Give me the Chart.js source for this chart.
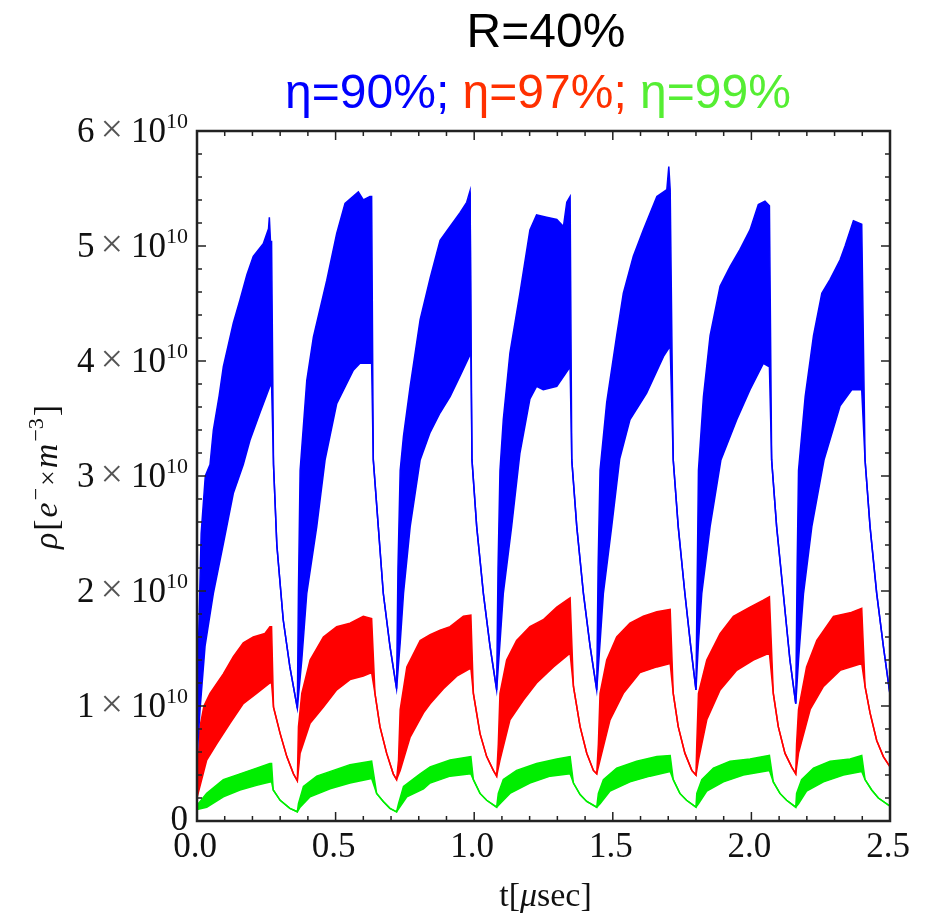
<!DOCTYPE html>
<html>
<head>
<meta charset="utf-8">
<script src="https://cdn.jsdelivr.net/npm/chart.js@4.4.1/dist/chart.umd.min.js"></script>
<style>
  body { margin: 0; background: #fff; }
  #wrap { position: relative; width: 928px; height: 920px; overflow: hidden; }
  #chart { position: absolute; left: 0; top: 0; }
  .title { position: absolute; width: 700px; text-align: center;
           font-family: "Liberation Sans", Arial, sans-serif; font-size: 48px; line-height: 48px; }
</style>
</head>
<body>
<div id="wrap">
  <canvas id="chart" width="928" height="920"></canvas>
  <div class="title" style="left:196px;top:7px;color:#000">R=40%</div>
  <div class="title" style="left:188px;top:68px">
    <span style="color:#0000ff">η=90%;</span>
    <span style="color:#ff3000">η=97%;</span>
    <span style="color:#55ee33">η=99%</span>
  </div>
</div>
<script>
// values in units of 10^10 e-/m^3, time in microseconds: [t, rho]
const UNIT = 1e10;

const xTickValues = [0, 0.5, 1.0, 1.5, 2.0, 2.5];
const xTickLabels = ["0.0", "0.5", "1.0", "1.5", "2.0", "2.5"];
const yTickValues = [0, 1, 2, 3, 4, 5, 6];
const yTickMantissas = ["0", "1", "2", "3", "4", "5", "6"];

// eta = 90% (blue): upper and lower edge of the bunch-train band, then decay between trains
const blueTop = [
  [0, 0.55], [0.006, 1.6], [0.015, 2.5], [0.03, 3.0], [0.047, 3.1], [0.059, 3.4], [0.08, 3.7], [0.095, 3.95],
  [0.131, 4.33], [0.155, 4.53], [0.18, 4.75], [0.203, 4.91], [0.239, 5.02], [0.258, 5.15], [0.261, 5.25], [0.265, 5.04], [0.269, 5.04],
  [0.362, 0.98], [0.366, 2.0], [0.372, 3.05], [0.396, 3.83], [0.42, 4.21], [0.468, 4.7], [0.504, 5.11], [0.534, 5.37],
  [0.582, 5.47], [0.6, 5.4], [0.624, 5.43], [0.63, 5.43],
  [0.72, 1.15], [0.725, 2.2], [0.733, 3.05], [0.745, 3.35], [0.769, 3.78], [0.805, 4.36], [0.841, 4.72], [0.877, 5.05],
  [0.913, 5.17], [0.949, 5.29], [0.973, 5.38], [0.985, 5.48], [0.988, 5.48],
  [1.081, 1.14], [1.086, 2.2], [1.093, 3.05], [1.105, 3.49], [1.129, 4.07], [1.165, 4.59], [1.201, 5.14], [1.225, 5.27],
  [1.261, 5.25], [1.298, 5.23], [1.322, 5.17], [1.334, 5.38], [1.346, 5.43],
  [1.442, 1.14], [1.447, 2.2], [1.454, 3.05], [1.478, 3.64], [1.514, 4.22], [1.538, 4.59], [1.574, 4.91], [1.61, 5.14],
  [1.659, 5.43], [1.695, 5.49], [1.702, 5.69], [1.707, 5.49],
  [1.8, 1.14], [1.805, 2.2], [1.809, 3.05], [1.827, 3.69], [1.851, 4.22], [1.887, 4.65], [1.923, 4.82], [1.959, 4.97],
  [1.995, 5.14], [2.025, 5.36], [2.049, 5.39], [2.065, 5.35],
  [2.16, 1.02], [2.165, 2.2], [2.17, 3.05], [2.194, 3.69], [2.224, 4.22], [2.254, 4.59], [2.284, 4.71], [2.32, 4.88],
  [2.338, 5.0], [2.368, 5.22], [2.398, 5.19]
];
const blueBottom = [
  [0, 0.55], [0.011, 0.97], [0.029, 1.52], [0.059, 1.98], [0.095, 2.41], [0.131, 2.85], [0.167, 3.1], [0.191, 3.31],
  [0.227, 3.55], [0.263, 3.78], [0.269, 3.8],
  [0.362, 0.98], [0.378, 1.4], [0.396, 1.98], [0.432, 2.56], [0.462, 3.14], [0.504, 3.63], [0.564, 3.92], [0.588, 3.98], [0.63, 3.98],
  [0.72, 1.15], [0.733, 1.55], [0.745, 1.98], [0.769, 2.56], [0.805, 3.14], [0.841, 3.38], [0.877, 3.55], [0.913, 3.69],
  [0.949, 3.87], [0.988, 4.07],
  [1.081, 1.14], [1.093, 1.55], [1.105, 1.98], [1.135, 2.56], [1.165, 3.2], [1.201, 3.67], [1.225, 3.78], [1.249, 3.75],
  [1.298, 3.78], [1.346, 3.95],
  [1.442, 1.14], [1.454, 1.55], [1.466, 1.98], [1.496, 2.56], [1.525, 3.15], [1.562, 3.49], [1.622, 3.72], [1.683, 4.04], [1.707, 4.13],
  [1.8, 1.14], [1.809, 1.55], [1.821, 1.98], [1.851, 2.56], [1.89, 3.14], [1.947, 3.49], [1.995, 3.75], [2.043, 3.98], [2.065, 3.95],
  [2.16, 1.02], [2.17, 1.4], [2.188, 1.98], [2.218, 2.56], [2.262, 3.14], [2.32, 3.61], [2.362, 3.75], [2.398, 3.75]
];
const blueDecay = [
  [0.276, 3.1], [0.288, 2.4], [0.311, 1.75], [0.335, 1.34],
  [0.636, 3.14], [0.654, 2.56], [0.672, 1.98], [0.696, 1.52],
  [0.992, 3.14], [1.009, 2.56], [1.033, 1.98], [1.057, 1.52],
  [1.352, 3.14], [1.37, 2.56], [1.394, 1.98], [1.418, 1.52],
  [1.718, 3.14], [1.736, 2.56], [1.76, 1.98], [1.781, 1.52],
  [2.073, 3.14], [2.091, 2.56], [2.115, 1.98], [2.139, 1.4],
  [2.41, 3.14], [2.428, 2.56], [2.452, 1.98], [2.476, 1.52], [2.5, 1.1]
];

// eta = 97% (red)
const redTop = [
  [0, 0.2], [0.005, 0.53], [0.011, 0.82], [0.025, 1.0], [0.047, 1.11], [0.095, 1.28], [0.131, 1.43], [0.167, 1.55],
  [0.203, 1.6], [0.245, 1.63], [0.263, 1.69], [0.269, 1.69],
  [0.362, 0.35], [0.366, 0.82], [0.378, 1.11], [0.408, 1.4], [0.456, 1.6], [0.504, 1.69], [0.552, 1.72], [0.6, 1.78], [0.63, 1.76],
  [0.72, 0.36], [0.727, 0.53], [0.733, 0.97], [0.757, 1.34], [0.805, 1.57], [0.841, 1.62], [0.877, 1.66], [0.913, 1.69],
  [0.961, 1.78], [0.988, 1.79],
  [1.081, 0.39], [1.087, 0.67], [1.093, 1.11], [1.117, 1.4], [1.153, 1.57], [1.201, 1.69], [1.249, 1.75], [1.298, 1.86],
  [1.334, 1.92], [1.346, 1.94],
  [1.442, 0.41], [1.448, 0.67], [1.454, 1.11], [1.478, 1.4], [1.514, 1.6], [1.562, 1.72], [1.61, 1.78], [1.659, 1.82], [1.707, 1.84],
  [1.8, 0.4], [1.803, 0.67], [1.809, 1.11], [1.839, 1.4], [1.887, 1.63], [1.935, 1.78], [1.995, 1.86], [2.043, 1.92], [2.065, 1.95],
  [2.16, 0.41], [2.163, 0.67], [2.17, 0.97], [2.199, 1.34], [2.236, 1.57], [2.296, 1.78], [2.356, 1.81], [2.398, 1.85]
];
const redBottom = [
  [0, 0.2], [0.005, 0.25], [0.035, 0.53], [0.071, 0.67], [0.119, 0.85], [0.167, 1.02], [0.215, 1.11], [0.263, 1.2], [0.269, 1.2],
  [0.362, 0.35], [0.372, 0.59], [0.408, 0.85], [0.456, 0.99], [0.504, 1.14], [0.552, 1.23], [0.6, 1.26], [0.63, 1.29],
  [0.72, 0.36], [0.733, 0.44], [0.769, 0.73], [0.817, 0.94], [0.841, 1.02], [0.889, 1.15], [0.937, 1.26], [0.988, 1.33],
  [1.081, 0.39], [1.093, 0.53], [1.129, 0.88], [1.177, 1.05], [1.225, 1.2], [1.286, 1.34], [1.346, 1.46],
  [1.442, 0.41], [1.454, 0.53], [1.49, 0.88], [1.538, 1.11], [1.598, 1.29], [1.659, 1.34], [1.707, 1.37],
  [1.8, 0.4], [1.809, 0.53], [1.839, 0.88], [1.887, 1.14], [1.947, 1.31], [2.007, 1.4], [2.065, 1.46],
  [2.16, 0.41], [2.17, 0.59], [2.212, 0.97], [2.26, 1.17], [2.32, 1.31], [2.398, 1.37]
];
const redDecay = [
  [0.276, 0.99], [0.3, 0.76], [0.324, 0.56], [0.348, 0.41],
  [0.642, 1.11], [0.66, 0.82], [0.684, 0.59], [0.708, 0.41],
  [0.997, 1.11], [1.021, 0.76], [1.045, 0.56], [1.069, 0.44],
  [1.358, 1.17], [1.382, 0.82], [1.406, 0.59], [1.43, 0.44],
  [1.718, 1.11], [1.736, 0.82], [1.76, 0.59], [1.785, 0.44],
  [2.079, 1.11], [2.097, 0.82], [2.121, 0.59], [2.145, 0.47],
  [2.41, 1.17], [2.428, 0.94], [2.452, 0.7], [2.476, 0.56], [2.5, 0.47]
];

// eta = 99% (green)
const greenTop = [
  [0, 0.12], [0.005, 0.15], [0.035, 0.24], [0.095, 0.36], [0.155, 0.41], [0.215, 0.46], [0.263, 0.5], [0.269, 0.5],
  [0.362, 0.08], [0.366, 0.15], [0.384, 0.3], [0.432, 0.39], [0.492, 0.44], [0.552, 0.49], [0.63, 0.52],
  [0.72, 0.08], [0.727, 0.15], [0.745, 0.3], [0.805, 0.41], [0.841, 0.47], [0.913, 0.53], [0.988, 0.56],
  [1.081, 0.12], [1.087, 0.24], [1.105, 0.36], [1.153, 0.44], [1.225, 0.5], [1.298, 0.54], [1.346, 0.56],
  [1.442, 0.12], [1.448, 0.24], [1.466, 0.36], [1.514, 0.46], [1.586, 0.52], [1.659, 0.56], [1.707, 0.57],
  [1.8, 0.12], [1.803, 0.24], [1.821, 0.36], [1.863, 0.46], [1.923, 0.52], [1.995, 0.54], [2.065, 0.57],
  [2.16, 0.12], [2.163, 0.24], [2.181, 0.36], [2.224, 0.46], [2.284, 0.52], [2.356, 0.54], [2.398, 0.57]
];
const greenBottom = [
  [0, 0.1], [0.035, 0.12], [0.095, 0.21], [0.155, 0.27], [0.215, 0.31], [0.263, 0.34], [0.269, 0.34],
  [0.362, 0.08], [0.372, 0.12], [0.408, 0.21], [0.48, 0.28], [0.552, 0.33], [0.63, 0.37],
  [0.72, 0.08], [0.757, 0.21], [0.817, 0.28], [0.841, 0.33], [0.913, 0.39], [0.988, 0.41],
  [1.081, 0.12], [1.093, 0.15], [1.129, 0.24], [1.201, 0.33], [1.274, 0.39], [1.346, 0.41],
  [1.442, 0.12], [1.454, 0.15], [1.49, 0.26], [1.562, 0.34], [1.634, 0.39], [1.707, 0.43],
  [1.8, 0.12], [1.809, 0.15], [1.839, 0.26], [1.899, 0.34], [1.971, 0.4], [2.065, 0.44],
  [2.16, 0.12], [2.17, 0.15], [2.199, 0.26], [2.26, 0.34], [2.332, 0.4], [2.398, 0.43]
];
const greenDecay = [
  [0.275, 0.27], [0.3, 0.18], [0.335, 0.11],
  [0.648, 0.24], [0.672, 0.17], [0.696, 0.11],
  [0.997, 0.36], [1.021, 0.24], [1.045, 0.18], [1.069, 0.14],
  [1.358, 0.33], [1.382, 0.23], [1.406, 0.17],
  [1.718, 0.36], [1.742, 0.24], [1.766, 0.18],
  [2.079, 0.34], [2.103, 0.24], [2.127, 0.18],
  [2.41, 0.36], [2.434, 0.27], [2.458, 0.2], [2.5, 0.13]
];

function buildLine(edge, decay) {
  return edge.concat(decay)
    .sort((a, b) => a[0] - b[0])
    .map(p => ({ x: p[0], y: p[1] * UNIT }));
}

function band(color, top, bottom, decay) {
  return [
    { data: buildLine(top, decay), borderColor: color, borderWidth: 1.5, fill: false },
    { data: buildLine(bottom, decay), borderColor: color, borderWidth: 1.5, backgroundColor: color, fill: "-1" }
  ];
}

const SERIF = '"Liberation Serif", "Times New Roman", serif';

const framePlugin = {
  id: "frameAndLabels",
  afterDraw(chart) {
    const ctx = chart.ctx;
    const a = chart.chartArea;
    const xs = chart.scales.x;
    const ys = chart.scales.y;
    ctx.save();

    // ticks, pointing inward on all four sides
    ctx.strokeStyle = "#222";
    ctx.lineWidth = 1.5;
    ctx.beginPath();
    for (let i = 0; i <= 25; i++) {
      const px = xs.getPixelForValue(i / 10);
      const len = i % 5 === 0 ? 9 : 5;
      ctx.moveTo(px, a.bottom); ctx.lineTo(px, a.bottom - len);
      ctx.moveTo(px, a.top); ctx.lineTo(px, a.top + len);
    }
    for (let i = 0; i <= 30; i++) {
      const py = ys.getPixelForValue(i * 0.2 * UNIT);
      const len = i % 5 === 0 ? 9 : 5;
      ctx.moveTo(a.left, py); ctx.lineTo(a.left + len, py);
      ctx.moveTo(a.right, py); ctx.lineTo(a.right - len, py);
    }
    ctx.stroke();

    ctx.lineWidth = 2.5;
    ctx.strokeRect(a.left, a.top, a.right - a.left, a.bottom - a.top);

    // x tick labels
    ctx.fillStyle = "#111";
    ctx.font = "35px " + SERIF;
    ctx.textAlign = "center";
    ctx.textBaseline = "alphabetic";
    xTickValues.forEach((v, i) => {
      ctx.fillText(xTickLabels[i], xs.getPixelForValue(v) - 2, 857);
    });

    // y tick labels: "m × 10^10"
    ctx.textAlign = "left";
    yTickValues.forEach((v, i) => {
      const py = ys.getPixelForValue(v * UNIT);
      const right = a.left - 9;
      if (v === 0) {
        ctx.font = "35px " + SERIF;
        ctx.fillStyle = "#111";
        ctx.textAlign = "right";
        ctx.fillText(yTickMantissas[i], right, py + 9);
        ctx.textAlign = "left";
        return;
      }
      ctx.font = "22px " + SERIF;
      const wSup = ctx.measureText("10").width;
      ctx.font = "40px " + SERIF;
      const wTimes = ctx.measureText("×").width;
      ctx.font = "35px " + SERIF;
      const wTen = ctx.measureText("10").width;
      const wMan = ctx.measureText(yTickMantissas[i]).width;
      let x = right - wSup - wTen - 8 - wTimes - 6 - wMan;
      ctx.fillStyle = "#111";
      ctx.fillText(yTickMantissas[i], x, py + 11);
      x += wMan + 6;
      ctx.fillStyle = "#555";
      ctx.font = "40px " + SERIF;
      ctx.fillText("×", x, py + 11);
      x += wTimes + 8;
      ctx.fillStyle = "#111";
      ctx.font = "35px " + SERIF;
      ctx.fillText("10", x, py + 11);
      x += wTen;
      ctx.font = "22px " + SERIF;
      ctx.fillText("10", x, py - 3);
    });

    // x axis title
    const xParts = [
      { t: "t[", f: "34px " + SERIF },
      { t: "μ", f: "italic 34px " + SERIF },
      { t: "sec]", f: "34px " + SERIF }
    ];
    let total = 0;
    xParts.forEach(p => { ctx.font = p.f; p.w = ctx.measureText(p.t).width; total += p.w; });
    let cx = (a.left + a.right) / 2 + 2 - total / 2;
    ctx.fillStyle = "#111";
    xParts.forEach(p => { ctx.font = p.f; ctx.fillText(p.t, cx, 906); cx += p.w; });

    // y axis title (rotated)
    const yParts = [
      { t: "ρ", f: "italic 34px " + SERIF, dy: 0 },
      { t: "[", f: "34px " + SERIF, dy: 0 },
      { t: "e", f: "italic 34px " + SERIF, dy: 0 },
      { t: "−", f: "22px " + SERIF, dy: -14 },
      { t: "×", f: "28px " + SERIF, dy: 0 },
      { t: "m", f: "italic 34px " + SERIF, dy: 0 },
      { t: "−3", f: "22px " + SERIF, dy: -14 },
      { t: "]", f: "34px " + SERIF, dy: 0 }
    ];
    const gap = 2;
    total = 0;
    yParts.forEach(p => { ctx.font = p.f; p.w = ctx.measureText(p.t).width; total += p.w + gap; });
    ctx.translate(57, 476);
    ctx.rotate(-Math.PI / 2);
    cx = -total / 2;
    yParts.forEach(p => { ctx.font = p.f; ctx.fillText(p.t, cx, p.dy); cx += p.w + gap; });

    ctx.restore();
  }
};

new Chart(document.getElementById("chart").getContext("2d"), {
  type: "line",
  data: {
    datasets: [
      ...band("#0000ff", blueTop, blueBottom, blueDecay),
      ...band("#ff0000", redTop, redBottom, redDecay),
      ...band("#00ee00", greenTop, greenBottom, greenDecay)
    ]
  },
  options: {
    responsive: false,
    animation: false,
    devicePixelRatio: 1,
    layout: { padding: { left: 197, right: 38, top: 131, bottom: 99 } },
    elements: { point: { radius: 0 }, line: { tension: 0 } },
    plugins: { legend: { display: false }, tooltip: { enabled: false } },
    scales: {
      x: { type: "linear", min: 0, max: 2.5, display: false },
      y: { type: "linear", min: 0, max: 6 * UNIT, display: false }
    }
  },
  plugins: [framePlugin]
});
</script>
</body>
</html>
